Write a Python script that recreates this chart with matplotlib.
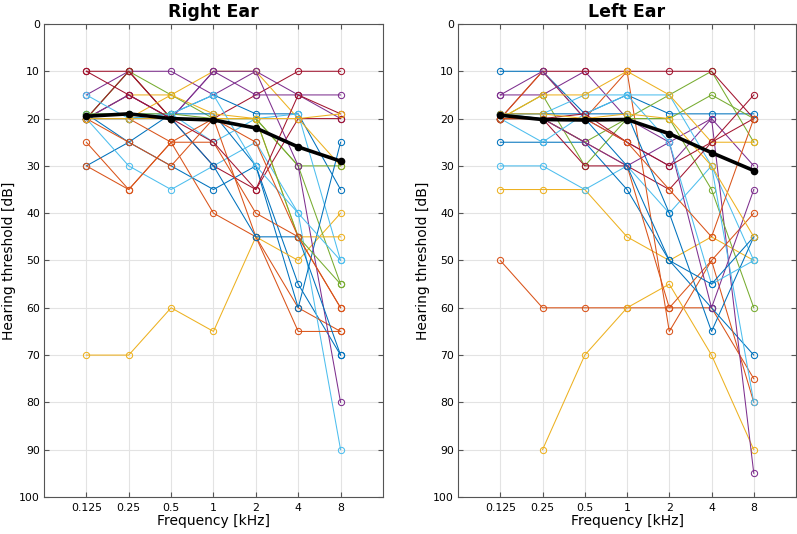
import numpy as np
import matplotlib
matplotlib.use('Agg')
import matplotlib.pyplot as plt

# frequencies [kHz] and labels
freqs = [0.125, 0.25, 0.5, 1, 2, 4, 8]
freq_labels = ['0.125', '0.25', '0.5', '1', '2', '4', '8']

# individual audiograms, right ear (dB HL at each frequency)
right_ear = [
    [30, 25, 30, 35, 30, 55, 70],
    [25, 35, 25, 40, 45, 60, 65],
    [70, 70, 60, 65, 45, 50, 40],
    [15, 10, 10, 15, 10, 15, 20],
    [20, 10, 20, 20, 20, 30, 55],
    [20, 30, 35, 30, 25, 40, 90],
    [10, 10, 20, 20, 15, 10, 10],
    [19, 25, 19, 15, 19, 19, 35],
    [20, 20, 25, 25, 40, 45, 60],
    [20, 15, 15, 10, 10, 20, 30],
    [20, 15, 20, 10, 15, 15, 15],
    [20, 10, 15, 20, 20, 30, 30],
    [19, 19, 19, 25, 20, 19, 50],
    [20, 10, 20, 30, 35, 20, 20],
    [20, 20, 19, 19, 30, 60, 25],
    [30, 35, 25, 20, 45, 65, 65],
    [20, 20, 15, 19, 20, 45, 45],
    [20, 15, 20, 10, 10, 30, 80],
    [19, 19, 19, 20, 20, 45, 55],
    [15, 20, 19, 15, 30, 40, 50],
    [10, 15, 20, 25, 35, 15, 19],
    [20, 20, 20, 30, 45, 45, 70],
    [20, 25, 30, 20, 25, 45, 60],
    [20, 20, 20, 20, 20, 20, 19],
]

# individual audiograms, left ear (nan = not measured)
left_ear = [
    [10, 10, 19, 15, 19, 19, 19],
    [50, 60, 60, 60, 60, 60, 75],
    [35, 35, 35, 45, 50, 45, 50],
    [15, 15, 10, 20, 25, 20, 30],
    [20, 20, 25, 20, 15, 10, 25],
    [30, 30, 35, 30, 40, 30, 50],
    [20, 10, 10, 10, 10, 10, 20],
    [25, 25, 25, 35, 50, 60, 70],
    [20, 10, 20, 10, 65, 50, 80],
    [np.nan, 90, 70, 60, 55, 70, 90],
    [15, 10, 20, 25, 30, 20, 95],
    [20, 15, 30, 20, 20, 35, 60],
    [19, 19, 15, 15, 15, 30, 80],
    [20, 20, 30, 30, 35, 25, 15],
    [19, 19, 19, 19, 40, 65, 45],
    [20, 20, 25, 30, 60, 50, 40],
    [20, 15, 15, 10, 15, 25, 25],
    [20, 20, 25, 30, 25, 60, 35],
    [20, 20, 20, 20, 20, 15, 20],
    [20, 25, 19, 15, 25, 55, 50],
    [20, 20, 19, 25, 30, 25, 20],
    [19, 20, 20, 30, 50, 55, 45],
    [20, 20, 20, 25, 35, 45, 20],
    [19, 19, 20, 19, 20, 30, 45],
]

# group mean
right_mean = [19.5, 19.0, 20.0, 20.3, 22.0, 26.0, 29.0]
left_mean = [19.3, 20.2, 20.3, 20.2, 23.2, 27.2, 31.0]

# matlab default colour order
colors = ['#0072bd', '#d95319', '#edb120', '#7e2f8e', '#77ac30', '#4dbeee', '#a2142f']


def audiogram(ax, subjects, mean, title):
	x = np.arange(1, len(freqs) + 1)
	for i, s in enumerate(subjects):
		ax.plot(x, s, '-o', color=colors[i % len(colors)], lw=0.75,
				markersize=4.5, markerfacecolor='none', markeredgewidth=0.75)
	ax.plot(x, mean, '-o', color='k', lw=2.6, markersize=4.5, zorder=5)

	ax.set_xlim(0, 8)
	ax.set_ylim(100, 0)
	ax.set_xticks(x)
	ax.set_xticklabels(freq_labels)
	ax.set_yticks(np.arange(0, 101, 10))
	ax.grid(True, color='#e3e3e3', lw=0.8)
	ax.set_axisbelow(True)
	ax.tick_params(direction='in', top=True, right=True, length=3.5,
				   color='#555555', labelsize=7.8)
	ax.tick_params(axis='x', pad=4)
	ax.tick_params(axis='y', pad=3)
	for sp in ax.spines.values():
		sp.set_color('#555555')
		sp.set_linewidth(0.8)
	ax.set_xlabel('Frequency [kHz]', fontsize=10, labelpad=1)
	ax.set_ylabel('Hearing threshold [dB]', fontsize=10, labelpad=2)
	ax.set_title(title, fontsize=12.5, fontweight='bold', pad=5)


fig = plt.figure(figsize=(7.97, 5.34), dpi=100)
ax1 = fig.add_axes([0.0552, 0.0693, 0.4253, 0.8858])
ax2 = fig.add_axes([0.5747, 0.0693, 0.4241, 0.8858])

audiogram(ax1, right_ear, right_mean, 'Right Ear')
audiogram(ax2, left_ear, left_mean, 'Left Ear')

fig.savefig('out.png', dpi=100)
